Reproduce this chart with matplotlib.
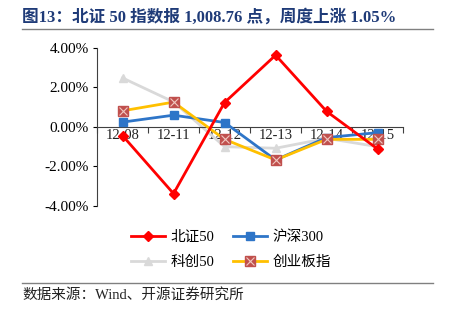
import numpy as np
import matplotlib.pyplot as plt
from matplotlib.ticker import FuncFormatter, MultipleLocator
from matplotlib.legend_handler import HandlerTuple
from matplotlib.lines import Line2D

plt.rcParams['font.family'] = ['Liberation Serif', 'Noto Sans CJK SC']

dates = ["12-08", "12-11", "12-12", "12-13", "12-14", "12-15"]
bz50 = [-0.44, -3.37, 1.23, 3.62, 0.78, -1.12]
hs300 = [0.24, 0.59, 0.22, -1.67, -0.54, -0.29]
kc50 = [2.47, 1.26, -1.00, -1.08, -0.58, -1.00]
cyb = [0.81, 1.25, -0.63, -1.67, -0.63, -0.63]

fig = plt.figure(figsize=(4.49, 3.22), dpi=100)
ax = fig.add_axes([0.216, 0.360, 0.682, 0.492])
x = np.arange(len(dates))

l_kc, = ax.plot(x, kc50, color="#d9d9d9", lw=2, marker="^", ms=6, zorder=2)
l_hs, = ax.plot(x, hs300, color="#2e75c8", lw=2, marker="s", ms=6, zorder=3)
l_cy, = ax.plot(x, cyb, color="#ffc000", lw=2, marker="s", ms=7, mfc="#c0504d",
                mec="#c0504d", zorder=4)
x_cy, = ax.plot(x, cyb, ls="none", marker="x", ms=6, mec="#f0c8c0", mew=0.8, zorder=4.5)
l_bz, = ax.plot(x, bz50, color="#ff0000", lw=2, marker="D", ms=5, zorder=5)

ax.set_xlim(-0.5, 5.5)
ax.set_ylim(-4, 4)
ax.yaxis.set_major_locator(MultipleLocator(2))
ax.yaxis.set_major_formatter(FuncFormatter(lambda v, p: f"{v:.2f}%"))
ax.tick_params(axis="y", labelsize=11, length=3, direction="out", pad=3)

# x axis sits on zero, ticks at category boundaries
ax.spines["bottom"].set_position(("data", 0))
for s in ["top", "right"]:
    ax.spines[s].set_visible(False)
ax.spines["left"].set_color("#404040")
ax.spines["bottom"].set_color("#404040")
ax.set_xticks(np.arange(-0.5, 6, 1))
ax.set_xticklabels([])
ax.tick_params(axis="x", length=4, direction="out", color="#404040")
for i, d in enumerate(dates):
    ax.text(i, -0.45, d, ha="center", va="center", fontsize=10.5, color="#222222", zorder=1)

handles = [l_bz, l_kc, l_hs, (l_cy, x_cy)]
labels = ["北证50", "科创50", "沪深300", "创业板指"]
fig.legend(handles, labels, ncol=2, frameon=False, loc="center",
           bbox_to_anchor=(0.515, 0.225), fontsize=10.5, columnspacing=1.3,
           handlelength=2.3, handletextpad=0.4, labelspacing=0.8,
           handler_map={tuple: HandlerTuple(ndivide=1)})

fig.text(0.05, 0.945, "图13：北证 50 指数报 1,008.76 点，周度上涨 1.05%", fontsize=12,
         fontweight="bold", color="#1f3b78", va="center")
fig.add_artist(Line2D([0.05, 0.965], [0.91, 0.91], color="#808080", lw=1))
fig.add_artist(Line2D([0.05, 0.965], [0.12, 0.12], color="#808080", lw=1))
fig.text(0.05, 0.083, "数据来源：Wind、开源证券研究所", fontsize=10.5, color="#222222", va="center")

fig.savefig("out.png", dpi=100)
